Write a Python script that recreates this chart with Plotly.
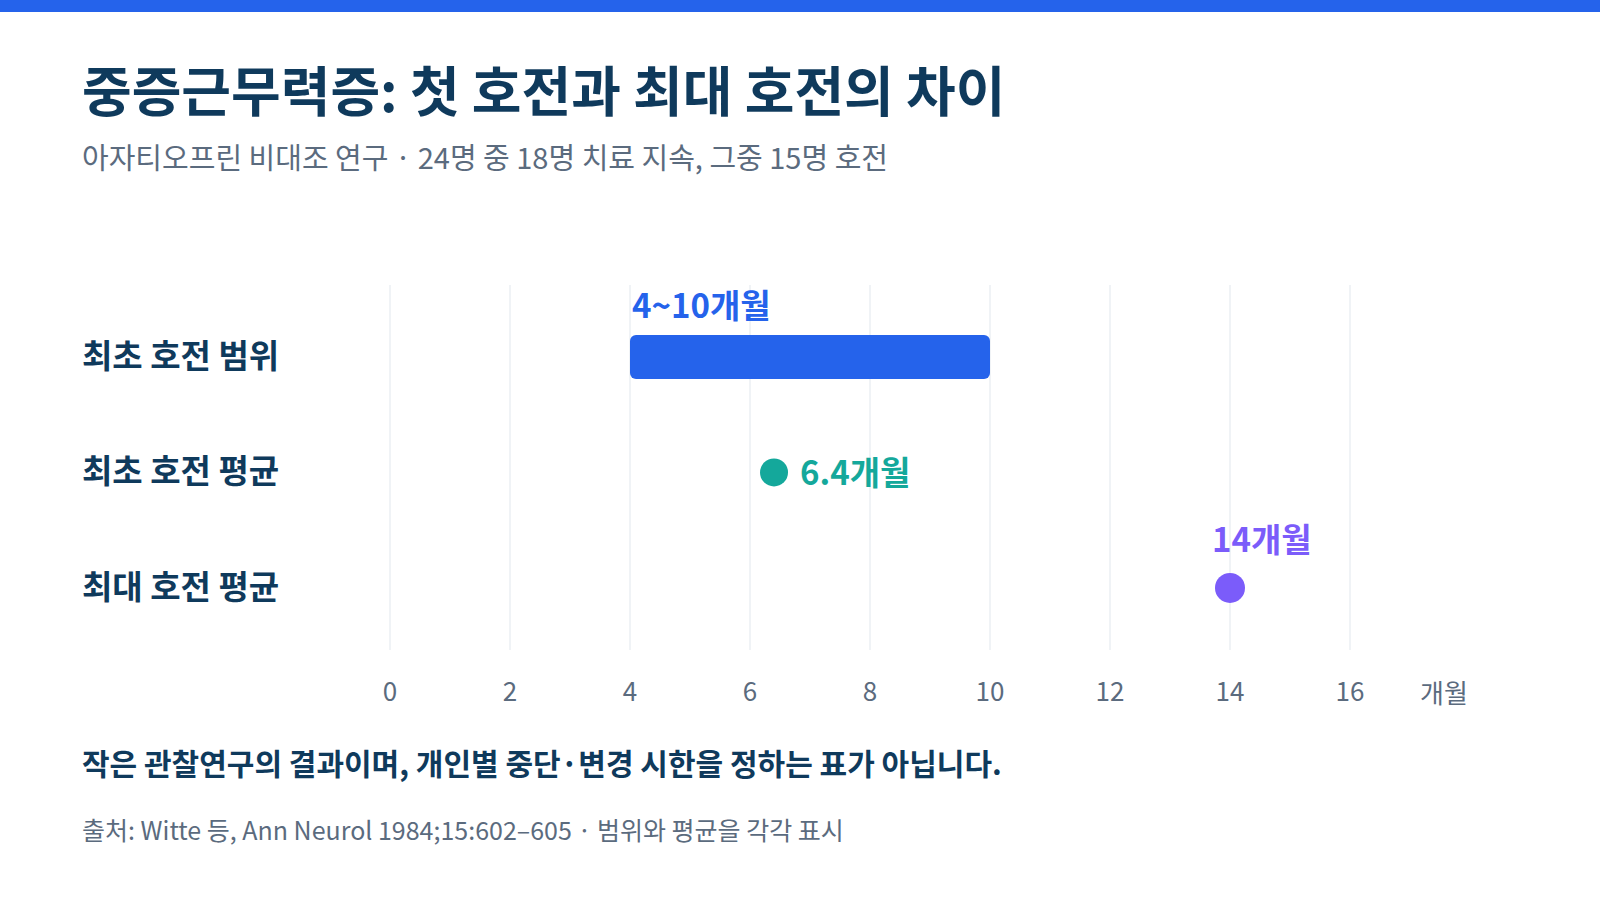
import plotly.graph_objects as go

# 데이터
categories = ["최초 호전 범위", "최초 호전 평균", "최대 호전 평균"]
range_start = 4
range_end = 10
first_mean = 6.4
max_mean = 14
x_ticks = [0, 2, 4, 6, 8, 10, 12, 14, 16]
range_label = "4~10개월"
first_label = "6.4개월"
max_label = "14개월"
unit_label = "개월"

title = "중증근무력증: 첫 호전과 최대 호전의 차이"
subtitle = "아자티오프린 비대조 연구 · 24명 중 18명 치료 지속, 그중 15명 호전"
note = "작은 관찰연구의 결과이며, 개인별 중단·변경 시한을 정하는 표가 아닙니다."
source = "출처: Witte 등, Ann Neurol 1984;15:602–605 · 범위와 평균을 각각 표시"

BLUE = "#2563EB"
TEAL = "#14A89B"
PURPLE = "#7B5CFA"
NAVY = "#0F3A5C"
GRAY = "#5B6B7E"
GRID = "#F0F3F6"
FONT = "Noto Sans CJK KR"

W, H = 1600, 900
ML, MR, MT, MB = 390, 190, 285, 250
PW, PH = W - ML - MR, H - MT - MB


def px_x(p):
    return (p - ML) / PW


def px_y(p):
    return (H - MB - p) / PH


fig = go.Figure()

fig.add_trace(go.Bar(
    y=[categories[0]], x=[range_end - range_start], base=[range_start],
    orientation="h", width=0.38, marker_color=BLUE, marker_line_width=0,
    hoverinfo="skip",
))
fig.add_trace(go.Scatter(
    x=[first_mean], y=[categories[1]], mode="markers",
    marker=dict(size=28, color=TEAL), hoverinfo="skip",
))
fig.add_trace(go.Scatter(
    x=[max_mean], y=[categories[2]], mode="markers",
    marker=dict(size=30, color=PURPLE), hoverinfo="skip",
))

annotations = [
    dict(x=range_start, y=categories[0], text=f"<b>{range_label}</b>", xanchor="left",
         yanchor="middle", yshift=53, font=dict(size=33, color=BLUE)),
    dict(x=first_mean, y=categories[1], text=f"<b>{first_label}</b>", xanchor="left",
         yanchor="middle", xshift=24, yshift=1, font=dict(size=33, color=TEAL)),
    dict(x=max_mean, y=categories[2], text=f"<b>{max_label}</b>", xanchor="left",
         yanchor="middle", xshift=-20, yshift=50, font=dict(size=33, color=PURPLE)),
    dict(x=px_x(1444), y=px_y(691), xref="paper", yref="paper", text=unit_label,
         xanchor="center", yanchor="middle", font=dict(size=26, color=GRAY)),
    dict(x=px_x(80), y=px_y(88), xref="paper", yref="paper", text=f"<b>{title}</b>",
         xanchor="left", yanchor="middle", font=dict(size=54, color=NAVY)),
    dict(x=px_x(80), y=px_y(156), xref="paper", yref="paper", text=subtitle,
         xanchor="left", yanchor="middle", font=dict(size=29, color=GRAY)),
    dict(x=px_x(80), y=px_y(762), xref="paper", yref="paper", text=f"<b>{note}</b>",
         xanchor="left", yanchor="middle", font=dict(size=30, color=NAVY)),
    dict(x=px_x(80), y=px_y(829), xref="paper", yref="paper", text=source,
         xanchor="left", yanchor="middle", font=dict(size=25, color=GRAY)),
]
for cat in categories:
    annotations.append(dict(x=px_x(80), y=cat, xref="paper", text=f"<b>{cat}</b>",
                            xanchor="left", yanchor="middle", yshift=3,
                            font=dict(size=33, color=NAVY)))
for a in annotations:
    a["showarrow"] = False

fig.update_layout(
    width=W, height=H,
    margin=dict(l=ML, r=MR, t=MT, b=MB),
    paper_bgcolor="white", plot_bgcolor="white",
    font=dict(family=FONT, color=GRAY),
    showlegend=False,
    barcornerradius=6,
    annotations=annotations,
    shapes=[dict(type="rect", xref="paper", yref="paper",
                 x0=px_x(0), x1=px_x(W), y0=px_y(0), y1=px_y(12),
                 fillcolor=BLUE, line_width=0, layer="above")],
    xaxis=dict(range=[0, 17], tickvals=x_ticks, showgrid=True, gridcolor=GRID,
               gridwidth=1.5, zeroline=True, zerolinecolor=GRID,
               zerolinewidth=1.5, showline=False, ticks="",
               tickfont=dict(size=26, color=GRAY), ticklabelstandoff=24,
               fixedrange=True),
    yaxis=dict(categoryorder="array", categoryarray=categories,
               range=[2.537, -0.623], showgrid=False, zeroline=False,
               showline=False, showticklabels=False, ticks="", fixedrange=True),
)

fig.write_html("out.html", config={"displayModeBar": False},
               post_script="document.body.style.margin='0px';")
